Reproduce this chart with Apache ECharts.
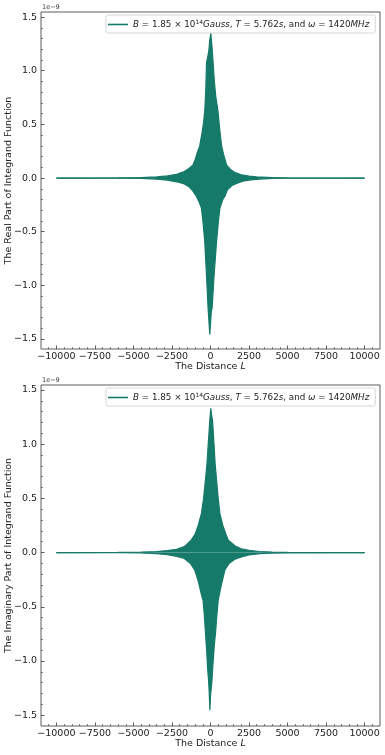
<!DOCTYPE html>
<html><head><meta charset="utf-8">
<script src="https://cdn.jsdelivr.net/npm/echarts@6/dist/echarts.min.js"></script>
<style>html,body{margin:0;padding:0;background:#fff}#c{width:385px;height:755px}</style>
</head><body><div id="c"></div>
<script>
// Values in units of 1e-9
const realUpperL = [-10000,-6000,-4500,-3500,-2800,-2200,-1700,-1400,-1150,-1000,-850,-700,-550,-450,-370,-300,-260,-200,-150,-100,-50,0,20,50,100,180,250,350,480,600,720,850,1050,1300,1600,2000,2500,3000,4000,5000,10000];
const realUpperV = [0,0.001,0.004,0.01,0.02,0.035,0.06,0.09,0.12,0.17,0.24,0.3,0.42,0.52,0.63,0.85,1.07,1.12,1.15,1.2,1.28,1.33,1.35,1.3,1.22,1.05,0.9,0.75,0.63,0.45,0.3,0.22,0.12,0.08,0.05,0.03,0.018,0.01,0.004,0.002,0];
const realLowerL = [-10000,-6000,-4500,-3500,-2800,-2200,-1700,-1400,-1150,-920,-750,-590,-480,-374,-262,-157,-46,50,105,236,394,500,610,800,938,1100,1400,1700,2100,2600,3200,4000,5000,10000];
const realLowerV = [0,-0.001,-0.004,-0.01,-0.02,-0.035,-0.055,-0.08,-0.12,-0.17,-0.22,-0.28,-0.42,-0.59,-0.9,-1.21,-1.457,-1.25,-1.21,-0.9,-0.59,-0.42,-0.28,-0.2,-0.17,-0.11,-0.07,-0.05,-0.03,-0.018,-0.01,-0.004,-0.002,0];
const imagUpperL = [-10000,-6000,-4500,-3500,-2800,-2200,-1700,-1250,-1000,-800,-590,-450,-328,-230,-157,-100,-46,20,70,131,236,300,394,500,610,800,1000,1155,1600,2000,2500,3200,4000,5000,10000];
const imagUpperV = [0,0.001,0.004,0.009,0.018,0.03,0.055,0.115,0.17,0.25,0.36,0.5,0.67,0.82,0.98,1.1,1.22,1.33,1.27,1.22,0.98,0.82,0.67,0.5,0.36,0.25,0.17,0.115,0.06,0.035,0.02,0.01,0.005,0.002,0];
const imagLowerL = [-10000,-6000,-4500,-3500,-2800,-2200,-1700,-1300,-1030,-800,-600,-485,-400,-328,-250,-197,-130,-90,-40,10,40,100,150,250,328,400,500,700,938,1200,1600,2000,2500,3200,4000,5000,10000];
const imagLowerV = [0,-0.001,-0.004,-0.01,-0.02,-0.035,-0.055,-0.1,-0.16,-0.26,-0.38,-0.44,-0.58,-0.74,-0.9,-1.05,-1.17,-1.27,-1.454,-1.3,-1.27,-1.17,-1.05,-0.85,-0.74,-0.6,-0.44,-0.3,-0.16,-0.1,-0.06,-0.04,-0.022,-0.01,-0.005,-0.002,0];

const xMajorTicks = [-10000,-7500,-5000,-2500,0,2500,5000,7500,10000];
const xMinorTicks = [-10500,-9500,-9000,-8500,-8000,-7000,-6500,-6000,-5500,-4500,-4000,-3500,-3000,-2000,-1500,-1000,-500,500,1000,1500,2000,3000,3500,4000,4500,5500,6000,6500,7000,8000,8500,9000,9500,10500];
const yMajorTicks = [-1.5,-1.0,-0.5,0.0,0.5,1.0,1.5];
const yMinorTicks = [-1.4,-1.3,-1.2,-1.1,-0.9,-0.8,-0.7,-0.6,-0.4,-0.3,-0.2,-0.1,0.1,0.2,0.3,0.4,0.6,0.7,0.8,0.9,1.1,1.2,1.3,1.4];

const color = '#167a6a';
const FONT = 'DejaVu Sans';
const pair = (xs, ys) => xs.map((x, i) => [x, ys[i]]);
const minus = s => String(s).replace('-', '\u2212');

const LFS = 8.75;
const legendText = '{i|B} = 1.85 × 10{sup|14}{i|Gauss}, {i|T} = 5.762{i|s}, and {i|ω} = 1420{i|MHz}';
const rich = {
  i: {fontStyle: 'italic', fontFamily: FONT, fontSize: LFS, color: '#222'},
  sup: {fontSize: 6, fontFamily: FONT, color: '#222', verticalAlign: 'top', padding: [0,0,5,0]}
};

const grids = [
  {left: 41, top: 12, width: 339, height: 337, yMin: -1.593, yMax: 1.547, yName: 'The Real Part of Integrand Function', up: pair(realUpperL, realUpperV), lo: pair(realLowerL, realLowerV), name: 'real'},
  {left: 41, top: 385, width: 339, height: 341, yMin: -1.60, yMax: 1.546, yName: 'The Imaginary Part of Integrand Function', up: pair(imagUpperL, imagUpperV), lo: pair(imagLowerL, imagLowerV), name: 'imag'}
];

const option = {
  animation: false,
  backgroundColor: '#fff',
  textStyle: {fontFamily: FONT},
  grid: grids.map(g => ({left: g.left, top: g.top, width: g.width, height: g.height, show: true, borderColor: '#333', borderWidth: 0.8, backgroundColor: 'transparent', containLabel: false, outerBoundsMode: 'none'})),
  xAxis: [],
  yAxis: [],
  series: [],
  legend: [],
  graphic: []
};

grids.forEach((g, gi) => {
  const xi = option.xAxis.length, yi = option.yAxis.length;
  option.xAxis.push({
    type: 'value', gridIndex: gi, min: -11000, max: 11000, position: 'bottom',
    name: '{n|The Distance }{i|L}', nameLocation: 'middle', nameGap: 13, nameMoveOverlap: false,
    nameTextStyle: {rich: {n: {fontFamily: FONT, fontSize: 9.5, color: '#222'}, i: {fontFamily: FONT, fontSize: 9.5, fontStyle: 'italic', color: '#222'}}},
    axisLine: {show: false, onZero: false},
    splitLine: {show: false},
    axisTick: {show: true, inside: true, length: 3.5, lineStyle: {color: '#333', width: 0.8}, customValues: xMajorTicks},
    axisLabel: {customValues: xMajorTicks, fontFamily: FONT, fontSize: 9.5, color: '#222', margin: 3, formatter: v => minus(v)}
  });
  option.xAxis.push({
    type: 'value', gridIndex: gi, min: -11000, max: 11000, position: 'bottom',
    axisLine: {show: false, onZero: false}, splitLine: {show: false}, axisLabel: {show: false},
    axisTick: {show: true, inside: true, length: 2, lineStyle: {color: '#333', width: 0.6}, customValues: xMinorTicks}
  });
  option.yAxis.push({
    type: 'value', gridIndex: gi, min: g.yMin, max: g.yMax, position: 'left',
    name: g.yName, nameLocation: 'middle', nameGap: 27, nameMoveOverlap: false,
    nameTextStyle: {fontFamily: FONT, fontSize: 9.5, color: '#222'},
    axisLine: {show: false, onZero: false}, splitLine: {show: false},
    axisTick: {show: true, inside: true, length: 3.5, lineStyle: {color: '#333', width: 0.8}, customValues: yMajorTicks},
    axisLabel: {customValues: yMajorTicks, fontFamily: FONT, fontSize: 9.5, color: '#222', margin: 4, formatter: v => minus(v.toFixed(1))}
  });
  option.yAxis.push({
    type: 'value', gridIndex: gi, min: g.yMin, max: g.yMax, position: 'left',
    axisLine: {show: false, onZero: false}, splitLine: {show: false}, axisLabel: {show: false},
    axisTick: {show: true, inside: true, length: 2, lineStyle: {color: '#333', width: 0.6}, customValues: yMinorTicks}
  });
  [g.up, g.lo].forEach(d => {
    option.series.push({
      type: 'line', name: g.name, xAxisIndex: xi, yAxisIndex: yi, data: d,
      showSymbol: false, symbol: 'none', lineStyle: {color: color, width: 1.2}, itemStyle: {color: color},
      areaStyle: {color: color, opacity: 1, origin: 0}, z: 2
    });
  });
  option.legend.push({
    data: [{name: g.name, icon: 'rect'}], left: 106, top: g.top + 3, orient: 'horizontal',
    itemWidth: 20, itemHeight: 1.6, padding: [4, 6, 4, 2],
    borderColor: '#ccc', borderWidth: 0.8, borderRadius: 2, backgroundColor: 'rgba(255,255,255,0.8)',
    selectedMode: false,
    formatter: () => legendText,
    textStyle: {fontFamily: FONT, fontSize: LFS, color: '#222', rich: rich}
  });
  option.graphic.push({
    type: 'text', left: g.left + 1, top: g.top - 8,
    style: {text: '1e\u22129', fontFamily: FONT, fontSize: 6.5, fill: '#333'}
  });
});

const chart = echarts.init(document.getElementById('c'), null, {renderer: 'canvas'});
chart.setOption(option);
</script>
</body></html>
